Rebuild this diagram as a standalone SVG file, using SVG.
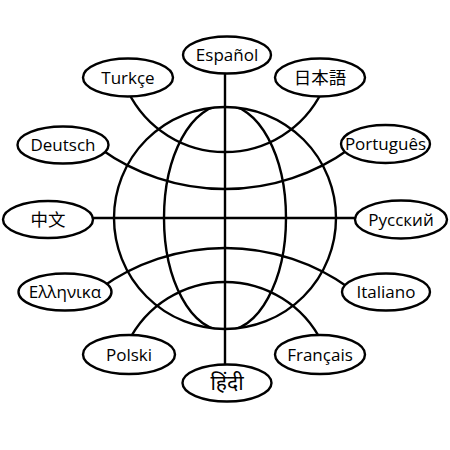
<svg xmlns="http://www.w3.org/2000/svg" width="450" height="450" viewBox="0 0 450 450">
<style>
.ln{fill:none;stroke:#000;stroke-width:2.4}
.nd ellipse{fill:#fff;stroke:#000;stroke-width:2.4}
.nd text{font-family:"Open Sans","Noto Sans",sans-serif;font-size:17px;fill:#000;text-anchor:middle}
.nd text.cj{font-family:"Noto Sans CJK JP","Noto Sans CJK SC",sans-serif;font-size:17.5px}
.nd text.sc{font-family:"Noto Sans CJK SC","Noto Sans CJK JP",sans-serif;font-size:17.5px}
.nd text.hi{font-family:"Noto Sans Devanagari","Noto Sans","DejaVu Sans",sans-serif;font-size:21px}
</style>
<defs>
<clipPath id="globeClip"><circle cx="225" cy="218" r="111"/></clipPath>
</defs>
<rect width="450" height="450" fill="#fff"/>
<g id="globe">
<circle class="ln" cx="225" cy="218" r="111"/>
<ellipse class="ln" cx="225" cy="218" rx="61" ry="113" clip-path="url(#globeClip)"/>
</g>
<g id="connectors">
<line class="ln" x1="225" y1="55" x2="225" y2="383"/>
<line class="ln" x1="48" y1="218" x2="401" y2="218"/>
<path class="ln" d="M128,91.5 A108,108 0 0 0 322,91.5"/>
<path class="ln" d="M100,148.5 A213,213 0 0 0 350,148.5"/>
<path class="ln" d="M100,288.5 A213,213 0 0 1 350,288.5"/>
<path class="ln" d="M128,342.5 A108,108 0 0 1 322,342.5"/>
</g>
<g id="node-espanol" class="nd"><ellipse cx="227" cy="55" rx="44" ry="18.5"/><text x="227" y="61">Español</text></g>
<g id="node-hindi" class="nd"><ellipse cx="227" cy="383" rx="44.5" ry="18.5"/><text class="hi" x="227" y="390">हिंदी</text></g>
<g id="node-turkce" class="nd"><ellipse cx="128" cy="77.5" rx="45" ry="19"/><text x="128" y="83.5">Turkçe</text></g>
<g id="node-japanese" class="nd"><ellipse cx="320" cy="77.5" rx="45" ry="19"/><text class="cj" x="320" y="83.5">日本語</text></g>
<g id="node-deutsch" class="nd"><ellipse cx="63" cy="145" rx="45.5" ry="18.5"/><text x="63" y="151">Deutsch</text></g>
<g id="node-portugues" class="nd"><ellipse cx="385.5" cy="144" rx="44.5" ry="19"/><text x="385.5" y="150">Português</text></g>
<g id="node-chinese" class="nd"><ellipse cx="48" cy="219.5" rx="45" ry="18.5"/><text class="sc" x="48" y="225.5">中文</text></g>
<g id="node-russian" class="nd"><ellipse cx="401" cy="219.5" rx="46" ry="19"/><text x="401" y="225.5">Русский</text></g>
<g id="node-greek" class="nd"><ellipse cx="65" cy="292" rx="46.5" ry="18.5"/><text x="65" y="298">Ελληνικα</text></g>
<g id="node-italiano" class="nd"><ellipse cx="386" cy="292" rx="44" ry="18.5"/><text x="386" y="298">Italiano</text></g>
<g id="node-polski" class="nd"><ellipse cx="129" cy="354.5" rx="46" ry="19.5"/><text x="129" y="360.5">Polski</text></g>
<g id="node-francais" class="nd"><ellipse cx="320" cy="354.5" rx="45" ry="19.5"/><text x="320" y="360.5">Français</text></g>
</svg>
